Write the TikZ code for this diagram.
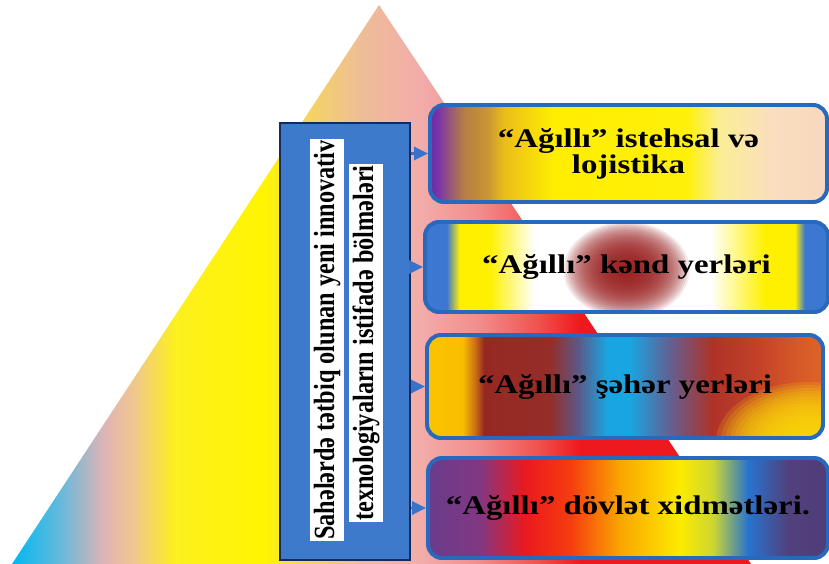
\documentclass[tikz,border=0pt]{standalone}
\usepackage{fontspec}
\setmainfont{Liberation Serif}
\newfontfamily\boxfont[FakeStretch=1.22]{Liberation Serif}
\newfontfamily\stripfont[FakeStretch=0.83]{Liberation Serif}
\usetikzlibrary{arrows.meta, fit}

% colour runs, left to right (25bp .. 75bp = the shaded path)
\pgfdeclarehorizontalshading{pyramid}{100bp}{rgb(0bp)=(0,.725,.941); rgb(25bp)=(0,.725,.941);
  rgb(28.2bp)=(.392,.725,.863); rgb(31.3bp)=(.882,.706,.706); rgb(33.3bp)=(.941,.784,.549);
  rgb(36bp)=(.988,.941,.118); rgb(42.1bp)=(1,.961,0); rgb(44.5bp)=(.965,.843,.353);
  rgb(48.5bp)=(.933,.745,.588); rgb(52.6bp)=(.949,.675,.667); rgb(56.7bp)=(.949,.549,.549);
  rgb(60.7bp)=(.941,.314,.294); rgb(63.4bp)=(.933,.098,.118); rgb(100bp)=(.933,.098,.118)}
\pgfdeclarehorizontalshading{istehsal}{100bp}{rgb(0bp)=(.412,.176,.627); rgb(25bp)=(.412,.176,.627);
  rgb(25.9bp)=(.471,.196,.667); rgb(29.2bp)=(.706,.490,.275); rgb(32.2bp)=(.784,.588,.196);
  rgb(34.4bp)=(.922,.745,.098); rgb(40.5bp)=(1,.933,0); rgb(57.4bp)=(1,.941,.039);
  rgb(61.5bp)=(.980,.933,.588); rgb(67.8bp)=(.980,.871,.745); rgb(75bp)=(.973,.843,.745);
  rgb(100bp)=(.973,.843,.745)}
\pgfdeclarehorizontalshading{kend}{100bp}{rgb(0bp)=(.235,.471,.824); rgb(27.7bp)=(.235,.471,.824);
  rgb(29.3bp)=(1,.941,0); rgb(33bp)=(1,.941,0); rgb(38.6bp)=(1,1,1); rgb(60.4bp)=(1,1,1);
  rgb(67.2bp)=(1,.941,0); rgb(70.9bp)=(1,.941,0); rgb(72.1bp)=(.235,.471,.824);
  rgb(100bp)=(.235,.471,.824)}
\pgfdeclarehorizontalshading{seher}{100bp}{rgb(0bp)=(.980,.765,0); rgb(25bp)=(.980,.765,0);
  rgb(29.5bp)=(.980,.745,0); rgb(31.1bp)=(.784,.431,.078); rgb(32.2bp)=(.588,.157,.137);
  rgb(40.5bp)=(.588,.176,.157); rgb(43.9bp)=(.373,.333,.510); rgb(47.7bp)=(.098,.647,.882);
  rgb(50.6bp)=(.098,.647,.882); rgb(55.7bp)=(.392,.373,.569); rgb(61bp)=(.686,.196,.157);
  rgb(66.7bp)=(.765,.255,.157); rgb(72bp)=(.843,.353,.157); rgb(75bp)=(.863,.392,.157);
  rgb(100bp)=(.863,.392,.157)}
\pgfdeclarehorizontalshading{dovlet}{100bp}{rgb(0bp)=(.412,.235,.549); rgb(25bp)=(.412,.235,.549);
  rgb(31.5bp)=(.510,.216,.510); rgb(37.1bp)=(.922,.098,.118); rgb(42.75bp)=(.961,.235,.059);
  rgb(49bp)=(.980,.647,0); rgb(56.5bp)=(.988,.922,0); rgb(60.6bp)=(.804,.843,.196);
  rgb(65bp)=(.157,.451,.804); rgb(70bp)=(.314,.255,.490); rgb(75bp)=(.314,.235,.471);
  rgb(100bp)=(.314,.235,.471)}

\definecolor{boxblue}{RGB}{40,105,190}
\definecolor{tipblue}{RGB}{55,115,205}
\definecolor{lblblue}{RGB}{62,122,204}
\definecolor{lblnavy}{RGB}{22,42,92}
\definecolor{blobred}{RGB}{155,30,30}
\definecolor{glowyellow}{RGB}{252,215,10}
\newcommand\pxu{0.03cm}

\begin{document}
\begin{tikzpicture}[x=0.03cm, y=-0.03cm,
    area/.style={draw=boxblue, line width=3.4pt, rounded corners=0.42cm, inner sep=0pt,
                 align=center, font=\boxfont\fontsize{23}{19.6}\selectfont\bfseries},
    strip/.style={fill=white, rotate=90, inner xsep=1pt, inner ysep=3pt,
                  font=\stripfont\fontsize{25}{25}\selectfont\bfseries},
    tip/.style={-{Triangle[length=0.42cm, width=0.4cm]}, line width=2pt, draw=tipblue},
  ]
    \useasboundingbox (0,0) rectangle (829,564);

    % === pyramid in the background ===
    \shade[shading=pyramid] (379,5) -- (751,564) -- (12,564) -- cycle;

    % === vertical label ===
    \node[fill=lblblue, draw=lblnavy, line width=2.2pt, inner sep=0pt,
          fit={(280,123) (410,560)}] (lbl) {};
    \node[strip] (lblA) at (327,340) {Sahələrdə tətbiq olunan yeni innovativ};
    \node[strip] (lblB) at (366,343) {texnologiyaların istifadə bölmələri};

    % === the four areas ===
    \node[area, shading=istehsal, minimum width=397*\pxu, minimum height=97*\pxu]
      (ist) at (628.5,153.5) {“Ağıllı” istehsal və\\lojistika};
    \node[area, shading=kend, minimum width=403*\pxu, minimum height=90*\pxu,
          path picture={\foreach \k in {1,...,30}
            \fill[blobred, opacity=0.1] ([shift={(0,3)}]path picture bounding box.center)
              ellipse [x radius=2.1*\k, y radius=1.6*\k];}]
      (kend) at (626.5,267) {“Ağıllı” kənd yerləri};
    \node[area, shading=seher, minimum width=396*\pxu, minimum height=103*\pxu,
          path picture={\foreach \k in {1,...,20}
            \fill[glowyellow, opacity=0.17] ([shift={(-15,4)}]path picture bounding box.south east)
              ellipse [x radius=4.6*\k, y radius=3*\k];}]
      (seher) at (625,386.5) {“Ağıllı” şəhər yerləri};
    \node[area, shading=dovlet, minimum width=400*\pxu, minimum height=100*\pxu]
      (dovlet) at (628,508) {“Ağıllı” dövlət xidmətləri.};

    % === pointers from the label ===
    \draw[tip] (lbl.east |- ist.west) -- (ist.west);
    \draw[tip] (lbl.east |- kend.west) -- (kend.west);
    \draw[tip] (lbl.east |- seher.west) -- (seher.west);
    \draw[tip] (lbl.east |- dovlet.west) -- (dovlet.west);
\end{tikzpicture}
\end{document}
